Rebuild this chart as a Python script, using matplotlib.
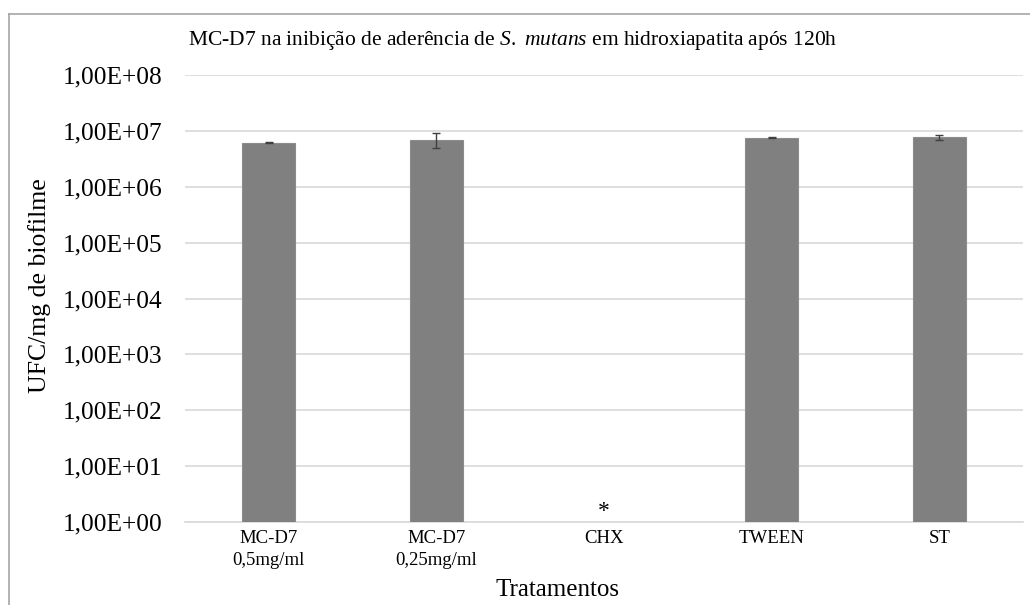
import matplotlib.pyplot as plt
from matplotlib.lines import Line2D

# Data
categories = ["MC-D7\n0,5mg/ml", "MC-D7\n0,25mg/ml", "CHX", "TWEEN", "ST"]
ufc_means = [6.17e6, 6.98e6, 0, 7.47e6, 7.7e6]
ufc_errors = [0.1e6, 2.1e6, 0, 0.15e6, 0.75e6]
y_ticks = [1e0, 1e1, 1e2, 1e3, 1e4, 1e5, 1e6, 1e7, 1e8]
y_tick_labels = ["1,00E+00", "1,00E+01", "1,00E+02", "1,00E+03", "1,00E+04",
                 "1,00E+05", "1,00E+06", "1,00E+07", "1,00E+08"]

plt.rcParams["font.family"] = ["Liberation Serif", "DejaVu Serif"]
plt.rcParams["mathtext.fontset"] = "custom"
plt.rcParams["mathtext.rm"] = "Liberation Serif"
plt.rcParams["mathtext.it"] = "Liberation Serif:italic"

fig = plt.figure(figsize=(10.3, 6.05), dpi=100)
ax = fig.add_axes([185 / 1030, 1 - 522 / 605, (1023 - 185) / 1030, (522 - 75) / 605])

x = list(range(len(categories)))
# CHX had no growth: bar is empty, marked with an asterisk
heights = [v if v > 0 else float("nan") for v in ufc_means]
ax.bar(x, heights, width=0.316, bottom=0, color="#808080", edgecolor="#8c8c8c",
       linewidth=0.8, zorder=3)
ax.errorbar(x, heights, yerr=ufc_errors, fmt="none", ecolor="#404040",
            elinewidth=1, capsize=3, capthick=1, zorder=4)

ax.set_yscale("log")
ax.set_ylim(1, 1e8)
ax.set_xlim(-0.5, len(categories) - 0.5)
ax.set_yticks(y_ticks)
ax.set_yticklabels(y_tick_labels, fontsize=18.3)
ax.minorticks_off()
ax.set_xticks(x)
ax.set_xticklabels(categories, fontsize=13.5, linespacing=1.35)
ax.tick_params(axis="both", length=0)
ax.tick_params(axis="y", pad=16)
ax.tick_params(axis="x", pad=6)

ax.grid(axis="y", color="#d9d9d9", linewidth=1.2, zorder=0)
for s in ["top", "right", "left"]:
    ax.spines[s].set_visible(False)
ax.spines["bottom"].set_color("#d9d9d9")
ax.spines["bottom"].set_linewidth(1.2)

ax.text(2, 1.0, "*", ha="center", va="bottom", fontsize=17)

fig.text(40 / 1030, 1 - 286 / 605, "UFC/mg de biofilme", rotation=90,
         ha="center", va="center", fontsize=18.5)
fig.text(558 / 1030, 1 - 590 / 605, "Tratamentos", ha="center", va="center",
         fontsize=18)

fig.text(513 / 1030, 1 - 41 / 605,
         "MC-D7 na inibição de aderência de $\\mathit{S.\\ mutans}$ em hidroxiapatita após 120h",
         ha="center", va="center", fontsize=15.5)

# outer chart border (only left and top visible in the crop)
fig.add_artist(Line2D([9 / 1030, 9 / 1030], [0, 1 - 14 / 605], color="#a6a6a6", linewidth=1.2))
fig.add_artist(Line2D([9 / 1030, 1], [1 - 14 / 605, 1 - 14 / 605], color="#a6a6a6", linewidth=1.2))

fig.savefig("out.png", dpi=100)
